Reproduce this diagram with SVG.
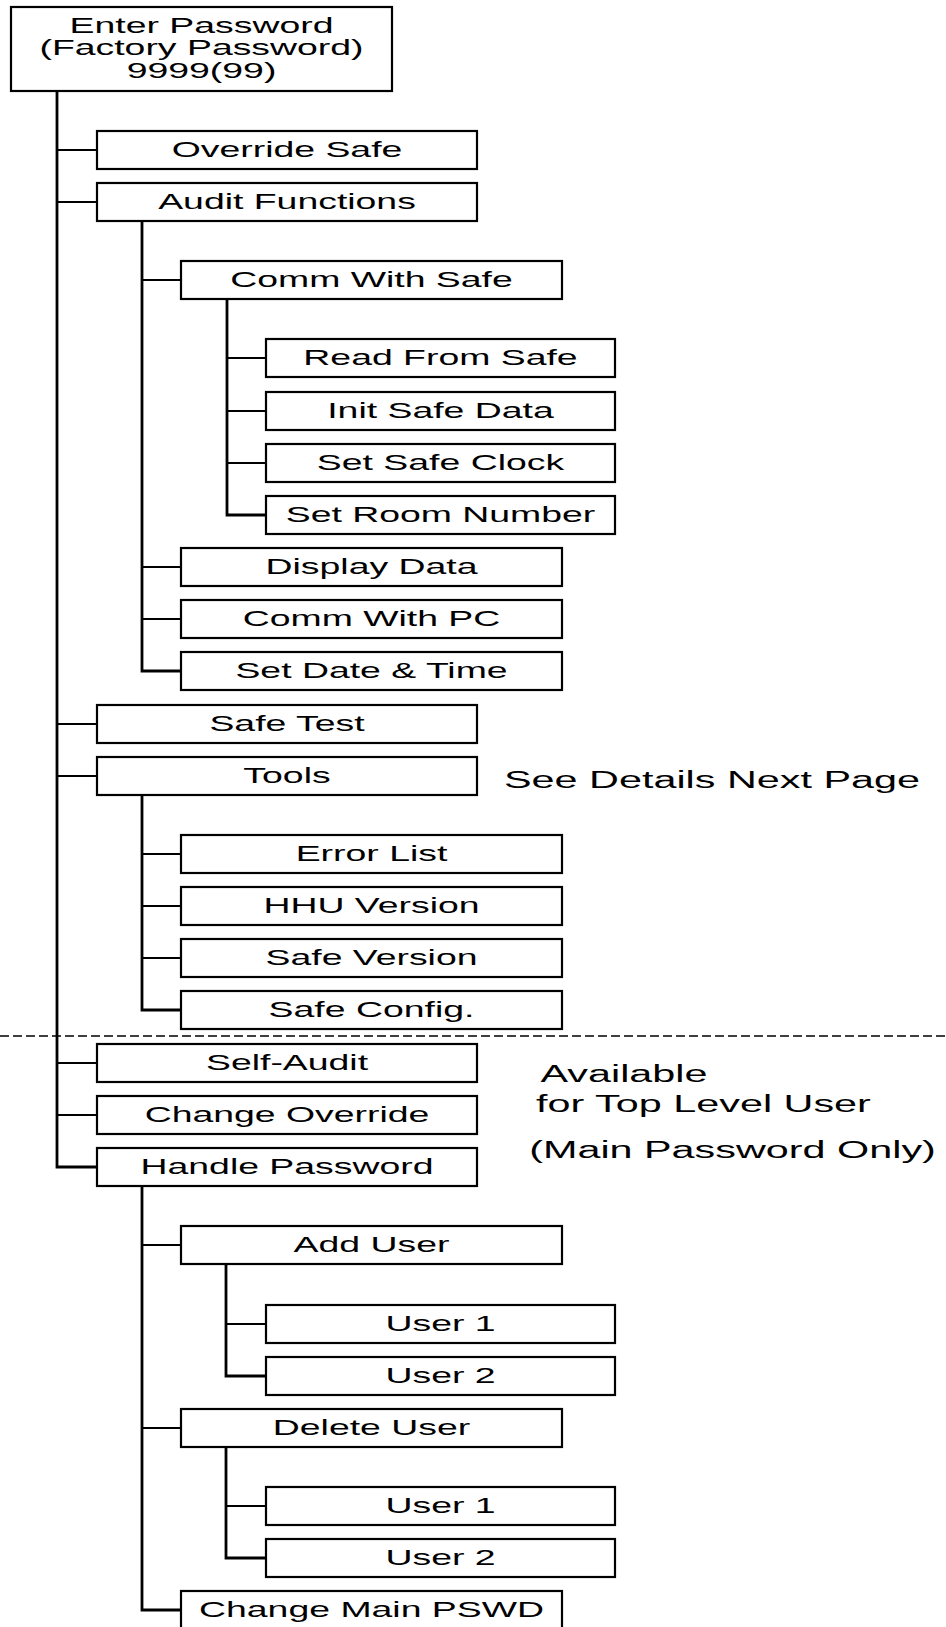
<svg xmlns="http://www.w3.org/2000/svg" width="946" height="1627" viewBox="0 0 946 1627">
<style>
  .box { fill: #ffffff; stroke: #000000; stroke-width: 2.2; }
  .trunk { fill: none; stroke: #000000; stroke-width: 2.8; stroke-linejoin: miter; }
  .branch { fill: none; stroke: #000000; stroke-width: 2; }
  .dash { fill: none; stroke: #000000; stroke-width: 1.5; stroke-dasharray: 9 4; }
  text { font-family: "Liberation Sans", Arial, sans-serif; fill: #000000; text-anchor: middle; }
  .lbl { font-size: 22px; }
  .note { font-size: 23.5px; }
</style>
<rect width="946" height="1627" fill="#ffffff"/>

<g id="connectors">
  <path class="trunk" d="M57 91 V1167 H97"/>
  <path class="branch" d="M57 150 H97 M57 202 H97 M57 724 H97 M57 776 H97 M57 1063 H97 M57 1115 H97"/>
  <path class="trunk" d="M142 221 V671 H181"/>
  <path class="branch" d="M142 280 H181 M142 567 H181 M142 619 H181"/>
  <path class="trunk" d="M227 299 V515 H266"/>
  <path class="branch" d="M227 358 H266 M227 411 H266 M227 463 H266"/>
  <path class="trunk" d="M142 795 V1010 H181"/>
  <path class="branch" d="M142 854 H181 M142 906 H181 M142 958 H181"/>
  <path class="trunk" d="M142 1186 V1610 H181"/>
  <path class="branch" d="M142 1245 H181 M142 1428 H181"/>
  <path class="trunk" d="M226 1264 V1376 H266"/>
  <path class="branch" d="M226 1324 H266"/>
  <path class="trunk" d="M226 1447 V1558 H266"/>
  <path class="branch" d="M226 1506 H266"/>
</g>

<line class="dash" x1="0" y1="1036" x2="946" y2="1036"/>

<g id="root">
  <rect class="box" x="11" y="7" width="381" height="84"/>
  <text class="lbl" transform="translate(201.5 32.5) scale(1.70 1)">Enter Password</text>
  <text class="lbl" transform="translate(201.5 55) scale(1.70 1)">(Factory Password)</text>
  <text class="lbl" transform="translate(201.5 77.5) scale(1.70 1)">9999(99)</text>
</g>

<g id="override-safe"><rect class="box" x="97" y="131" width="380" height="38"/><text class="lbl" transform="translate(287 157) scale(1.70 1)">Override Safe</text></g>
<g id="audit-functions"><rect class="box" x="97" y="183" width="380" height="38"/><text class="lbl" transform="translate(287 209) scale(1.70 1)">Audit Functions</text></g>
<g id="comm-with-safe"><rect class="box" x="181" y="261" width="381" height="38"/><text class="lbl" transform="translate(371.5 287) scale(1.70 1)">Comm With Safe</text></g>
<g id="read-from-safe"><rect class="box" x="266" y="339" width="349" height="38"/><text class="lbl" transform="translate(440.5 365) scale(1.70 1)">Read From Safe</text></g>
<g id="init-safe-data"><rect class="box" x="266" y="392" width="349" height="38"/><text class="lbl" transform="translate(440.5 418) scale(1.70 1)">Init Safe Data</text></g>
<g id="set-safe-clock"><rect class="box" x="266" y="444" width="349" height="38"/><text class="lbl" transform="translate(440.5 470) scale(1.70 1)">Set Safe Clock</text></g>
<g id="set-room-number"><rect class="box" x="266" y="496" width="349" height="38"/><text class="lbl" transform="translate(440.5 522) scale(1.70 1)">Set Room Number</text></g>
<g id="display-data"><rect class="box" x="181" y="548" width="381" height="38"/><text class="lbl" transform="translate(371.5 574) scale(1.70 1)">Display Data</text></g>
<g id="comm-with-pc"><rect class="box" x="181" y="600" width="381" height="38"/><text class="lbl" transform="translate(371.5 626) scale(1.70 1)">Comm With PC</text></g>
<g id="set-date-time"><rect class="box" x="181" y="652" width="381" height="38"/><text class="lbl" transform="translate(371.5 678) scale(1.70 1)">Set Date &amp; Time</text></g>
<g id="safe-test"><rect class="box" x="97" y="705" width="380" height="38"/><text class="lbl" transform="translate(287 731) scale(1.70 1)">Safe Test</text></g>
<g id="tools"><rect class="box" x="97" y="757" width="380" height="38"/><text class="lbl" transform="translate(287 783) scale(1.70 1)">Tools</text></g>
<g id="error-list"><rect class="box" x="181" y="835" width="381" height="38"/><text class="lbl" transform="translate(371.5 861) scale(1.70 1)">Error List</text></g>
<g id="hhu-version"><rect class="box" x="181" y="887" width="381" height="38"/><text class="lbl" transform="translate(371.5 913) scale(1.70 1)">HHU Version</text></g>
<g id="safe-version"><rect class="box" x="181" y="939" width="381" height="38"/><text class="lbl" transform="translate(371.5 965) scale(1.70 1)">Safe Version</text></g>
<g id="safe-config"><rect class="box" x="181" y="991" width="381" height="38"/><text class="lbl" transform="translate(371.5 1017) scale(1.70 1)">Safe Config.</text></g>
<g id="self-audit"><rect class="box" x="97" y="1044" width="380" height="38"/><text class="lbl" transform="translate(287 1070) scale(1.70 1)">Self-Audit</text></g>
<g id="change-override"><rect class="box" x="97" y="1096" width="380" height="38"/><text class="lbl" transform="translate(287 1122) scale(1.70 1)">Change Override</text></g>
<g id="handle-password"><rect class="box" x="97" y="1148" width="380" height="38"/><text class="lbl" transform="translate(287 1174) scale(1.70 1)">Handle Password</text></g>
<g id="add-user"><rect class="box" x="181" y="1226" width="381" height="38"/><text class="lbl" transform="translate(371.5 1252) scale(1.70 1)">Add User</text></g>
<g id="add-user-1"><rect class="box" x="266" y="1305" width="349" height="38"/><text class="lbl" transform="translate(440.5 1331) scale(1.70 1)">User 1</text></g>
<g id="add-user-2"><rect class="box" x="266" y="1357" width="349" height="38"/><text class="lbl" transform="translate(440.5 1383) scale(1.70 1)">User 2</text></g>
<g id="delete-user"><rect class="box" x="181" y="1409" width="381" height="38"/><text class="lbl" transform="translate(371.5 1435) scale(1.70 1)">Delete User</text></g>
<g id="delete-user-1"><rect class="box" x="266" y="1487" width="349" height="38"/><text class="lbl" transform="translate(440.5 1513) scale(1.70 1)">User 1</text></g>
<g id="delete-user-2"><rect class="box" x="266" y="1539" width="349" height="38"/><text class="lbl" transform="translate(440.5 1565) scale(1.70 1)">User 2</text></g>
<g id="change-main-pswd"><rect class="box" x="181" y="1591" width="381" height="38"/><text class="lbl" transform="translate(371.5 1617) scale(1.70 1)">Change Main PSWD</text></g>

<g id="notes">
  <text class="note" transform="translate(712 788) scale(1.76 1)">See Details Next Page</text>
  <text class="note" transform="translate(624 1082) scale(1.76 1)">Available</text>
  <text class="note" transform="translate(703.5 1112) scale(1.76 1)">for Top Level User</text>
  <text class="note" transform="translate(732.5 1158) scale(1.76 1)">(Main Password Only)</text>
</g>
</svg>
